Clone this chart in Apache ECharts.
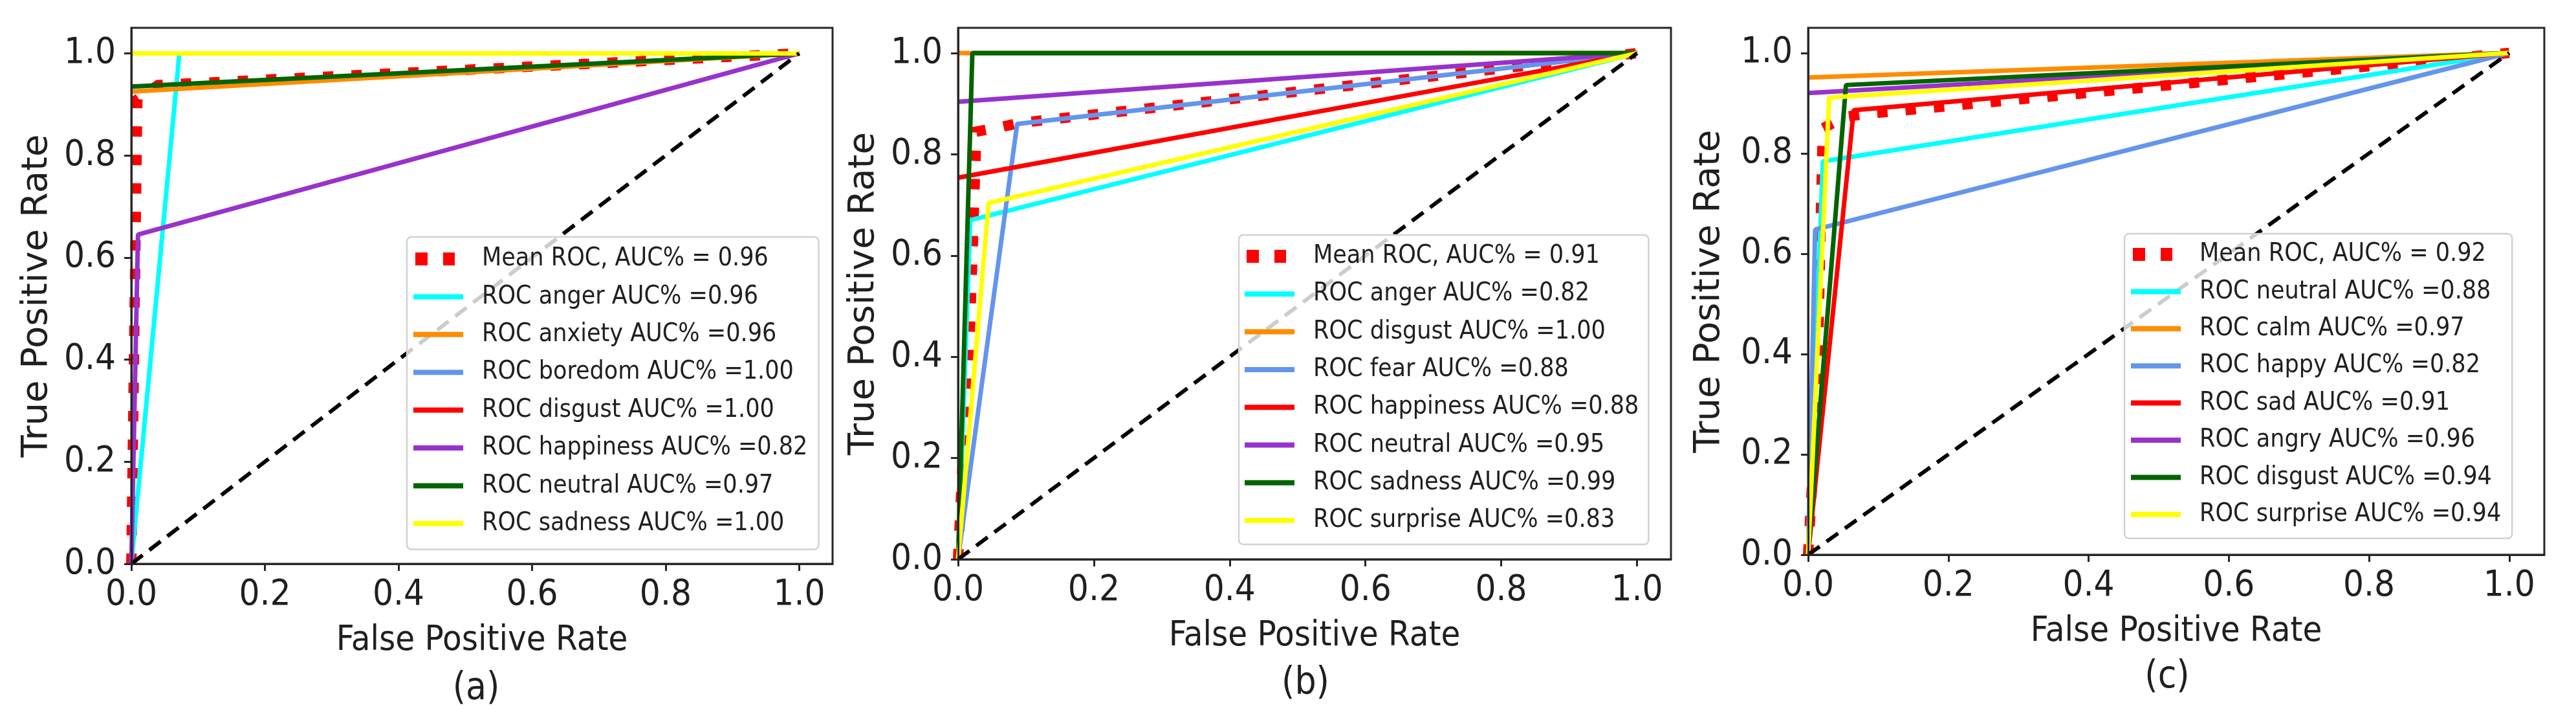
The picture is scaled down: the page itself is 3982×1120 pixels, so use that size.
<!DOCTYPE html>
<html>
<head>
<meta charset="utf-8">
<script src="https://cdn.jsdelivr.net/npm/echarts@6/dist/echarts.min.js"></script>
<style>
  html, body { margin: 0; padding: 0; background: #ffffff; }
  #chart { width: 3982px; height: 1120px; }
</style>
</head>
<body>
<div id="chart"></div>
<script>
// ---------------- DATA ----------------
const tickValues = [0, 0.2, 0.4, 0.6, 0.8, 1.0];
const xAxisTitle = 'False Positive Rate';
const yAxisTitle = 'True Positive Rate';
const panelLabels = ['(a)', '(b)', '(c)'];
const classColors = ['#00FFFF', '#FF8C00', '#6495ED', '#FF0000', '#9932CC', '#006400', '#FFFF00'];
const diagonal = [[0, 0], [1, 1]];

// Panel (a)
const classesA = ['anger', 'anxiety', 'boredom', 'disgust', 'happiness', 'neutral', 'sadness'];
const aucA = ['0.96', '0.96', '1.00', '1.00', '0.82', '0.97', '1.00'];
const meanAucA = '0.96';
const meanRocA = [[0, 0], [0.009, 0.91], [0.04, 0.938], [1, 1]];
const rocA = [
  [[0, 0], [0.072, 1.0], [1, 1]],
  [[0, 0.925], [1, 1]],
  [[0, 1.0], [1, 1]],
  [[0, 1.0], [1, 1]],
  [[0, 0], [0.01, 0.645], [1, 1]],
  [[0, 0.935], [1, 1]],
  [[0, 1.0], [1, 1]]
];

// Panel (b)
const classesB = ['anger', 'disgust', 'fear', 'happiness', 'neutral', 'sadness', 'surprise'];
const aucB = ['0.82', '1.00', '0.88', '0.88', '0.95', '0.99', '0.83'];
const meanAucB = '0.91';
const meanRocB = [[0, 0], [0.007, 0.2], [0.016, 0.4], [0.021, 0.59], [0.024, 0.72], [0.027, 0.845], [0.06, 0.853], [0.09, 0.862], [1, 1]];
const rocB = [
  [[0, 0], [0.018, 0.67], [1, 1]],
  [[0, 1.0], [1, 1]],
  [[0, 0], [0.087, 0.86], [1, 1]],
  [[0, 0.754], [1, 1]],
  [[0, 0.904], [1, 1]],
  [[0, 0], [0.021, 1.0], [1, 1]],
  [[0, 0], [0.045, 0.704], [1, 1]]
];

// Panel (c)
const classesC = ['neutral', 'calm', 'happy', 'sad', 'angry', 'disgust', 'surprise'];
const aucC = ['0.88', '0.97', '0.82', '0.91', '0.96', '0.94', '0.94'];
const meanAucC = '0.92';
const meanRocC = [[0, 0], [0.012, 0.3], [0.015, 0.46], [0.017, 0.6], [0.02, 0.79], [0.021, 0.85], [0.054, 0.873], [0.094, 0.88], [1, 1]];
const rocC = [
  [[0, 0], [0.021, 0.784], [1, 1]],
  [[0, 0.951], [1, 1]],
  [[0, 0], [0.01, 0.648], [1, 1]],
  [[0, 0], [0.065, 0.886], [1, 1]],
  [[0, 0.92], [1, 1]],
  [[0, 0], [0.054, 0.936], [1, 1]],
  [[0, 0], [0.03, 0.911], [1, 1]]
];

// ---------------- LAYOUT ----------------
const FONT_C = "'DejaVu Sans Condensed', 'Liberation Sans Narrow', 'DejaVu Sans', sans-serif";
const FONT_Y = "'DejaVu Sans', sans-serif";
const INK = '#1f1f1f';
const SPINE = '#262626';

const gridBoxes = [
  { left: 203, top: 43, width: 1084, height: 828 },
  { left: 1481, top: 43, width: 1102, height: 821 },
  { left: 2795, top: 43, width: 1138, height: 814 }
];
const yNameGaps = [118, 118, 125];
const legendBoxes = [
  { left: 629, top: 366, padding: [14, 17, 20, 10], itemGap: 18.4 },
  { left: 1915, top: 363, padding: [13, 15, 17, 9], itemGap: 18.3 },
  { left: 3284, top: 361, padding: [12, 17, 17, 10], itemGap: 17.4 }
];
const labelPos = [[736, 1065], [2018, 1057], [3350, 1047]];

const ICON_LINE = 'path://M0,0h0.01v0.01h-0.01zM0,6h77v8h-77zM100.99,19.99h0.01v0.01h-0.01z';
const ICON_DOTS = 'path://M0,0h0.01v0.01h-0.01zM3,0h19v20h-19zM46,0h18v20h-18zM100.99,19.99h0.01v0.01h-0.01z';

const panels = [
  { classes: classesA, auc: aucA, roc: rocA, meanAuc: meanAucA, mean: meanRocA },
  { classes: classesB, auc: aucB, roc: rocB, meanAuc: meanAucB, mean: meanRocB },
  { classes: classesC, auc: aucC, roc: rocC, meanAuc: meanAucC, mean: meanRocC }
];

const grid = [], xAxis = [], yAxis = [], series = [], legend = [], graphic = [];
const usedNames = new Set();
function uniqueName(n) {
  let s = n;
  while (usedNames.has(s)) s += ' ';
  usedNames.add(s);
  return s;
}

panels.forEach((p, i) => {
  const g = gridBoxes[i];
  grid.push(Object.assign({
    show: true, borderColor: SPINE, borderWidth: 3, backgroundColor: 'transparent',
    containLabel: false, outerBoundsMode: 'none'
  }, g));

  xAxis.push({
    gridIndex: i, type: 'value', min: 0, max: 1.05, z: 10,
    axisLine: { show: true, onZero: false, lineStyle: { color: SPINE, width: 3 } },
    axisTick: { show: true, customValues: tickValues, length: 11, lineStyle: { color: SPINE, width: 3 } },
    axisLabel: { customValues: tickValues, formatter: v => Number(v).toFixed(1), fontSize: 56, fontFamily: FONT_C, color: INK, margin: 20 },
    splitLine: { show: false },
    name: xAxisTitle, nameLocation: 'middle', nameGap: 92,
    nameTextStyle: { fontSize: 54, fontFamily: FONT_C, color: INK }
  });
  yAxis.push({
    gridIndex: i, type: 'value', min: 0, max: 1.05, z: 10,
    axisLine: { show: true, onZero: false, lineStyle: { color: SPINE, width: 3 } },
    axisTick: { show: true, customValues: tickValues, length: 11, lineStyle: { color: SPINE, width: 3 } },
    axisLabel: { customValues: tickValues, formatter: v => Number(v).toFixed(1), fontSize: 56, fontFamily: FONT_C, color: INK, margin: 24 },
    splitLine: { show: false },
    name: yAxisTitle, nameLocation: 'middle', nameGap: yNameGaps[i],
    nameTextStyle: { fontSize: 56, fontFamily: FONT_Y, color: INK }
  });

  const legendData = [];
  const meanName = uniqueName('Mean ROC, AUC% = ' + p.meanAuc);
  legendData.push({ name: meanName, icon: ICON_DOTS });
  series.push({
    type: 'line', name: meanName, xAxisIndex: i, yAxisIndex: i, data: p.mean,
    symbol: 'none', showSymbol: false, silent: true, animation: false,
    itemStyle: { color: '#FF0000' },
    lineStyle: { color: '#FF0000', width: 16, type: [16, 28], cap: 'butt', join: 'miter' }
  });
  p.classes.forEach((c, k) => {
    const nm = uniqueName('ROC ' + c + ' AUC% =' + p.auc[k]);
    legendData.push({ name: nm, icon: ICON_LINE });
    series.push({
      type: 'line', name: nm, xAxisIndex: i, yAxisIndex: i, data: p.roc[k],
      symbol: 'none', showSymbol: false, silent: true, animation: false,
      itemStyle: { color: classColors[k] },
      lineStyle: { color: classColors[k], width: 7, cap: 'butt' }
    });
  });
  series.push({
    type: 'line', xAxisIndex: i, yAxisIndex: i, data: diagonal,
    symbol: 'none', showSymbol: false, silent: true, animation: false,
    itemStyle: { color: '#000000' },
    lineStyle: { color: '#000000', width: 6, type: [22, 13], cap: 'butt' }
  });

  const lb = legendBoxes[i];
  legend.push({
    show: true, orient: 'vertical', left: lb.left, top: lb.top, padding: lb.padding,
    itemGap: lb.itemGap, itemWidth: 101, itemHeight: 20, symbolKeepAspect: true,
    selectedMode: false, data: legendData,
    itemStyle: { borderWidth: 0 },
    textStyle: { fontSize: 39, fontFamily: FONT_C, color: INK, lineHeight: 40 },
    backgroundColor: 'rgba(255,255,255,0.8)', borderColor: '#d2d2d2', borderWidth: 2.5, borderRadius: 7,
    z: 6
  });

  graphic.push({
    type: 'text', x: labelPos[i][0], y: labelPos[i][1], z: 20,
    style: { text: panelLabels[i], fontSize: 58, fontFamily: FONT_C, fill: INK, align: 'center', verticalAlign: 'middle' }
  });
});

const chart = echarts.init(document.getElementById('chart'), null, { renderer: 'canvas', width: 3982, height: 1120 });
chart.setOption({
  backgroundColor: '#ffffff',
  animation: false,
  grid, xAxis, yAxis, series, legend, graphic
});
</script>
</body>
</html>
